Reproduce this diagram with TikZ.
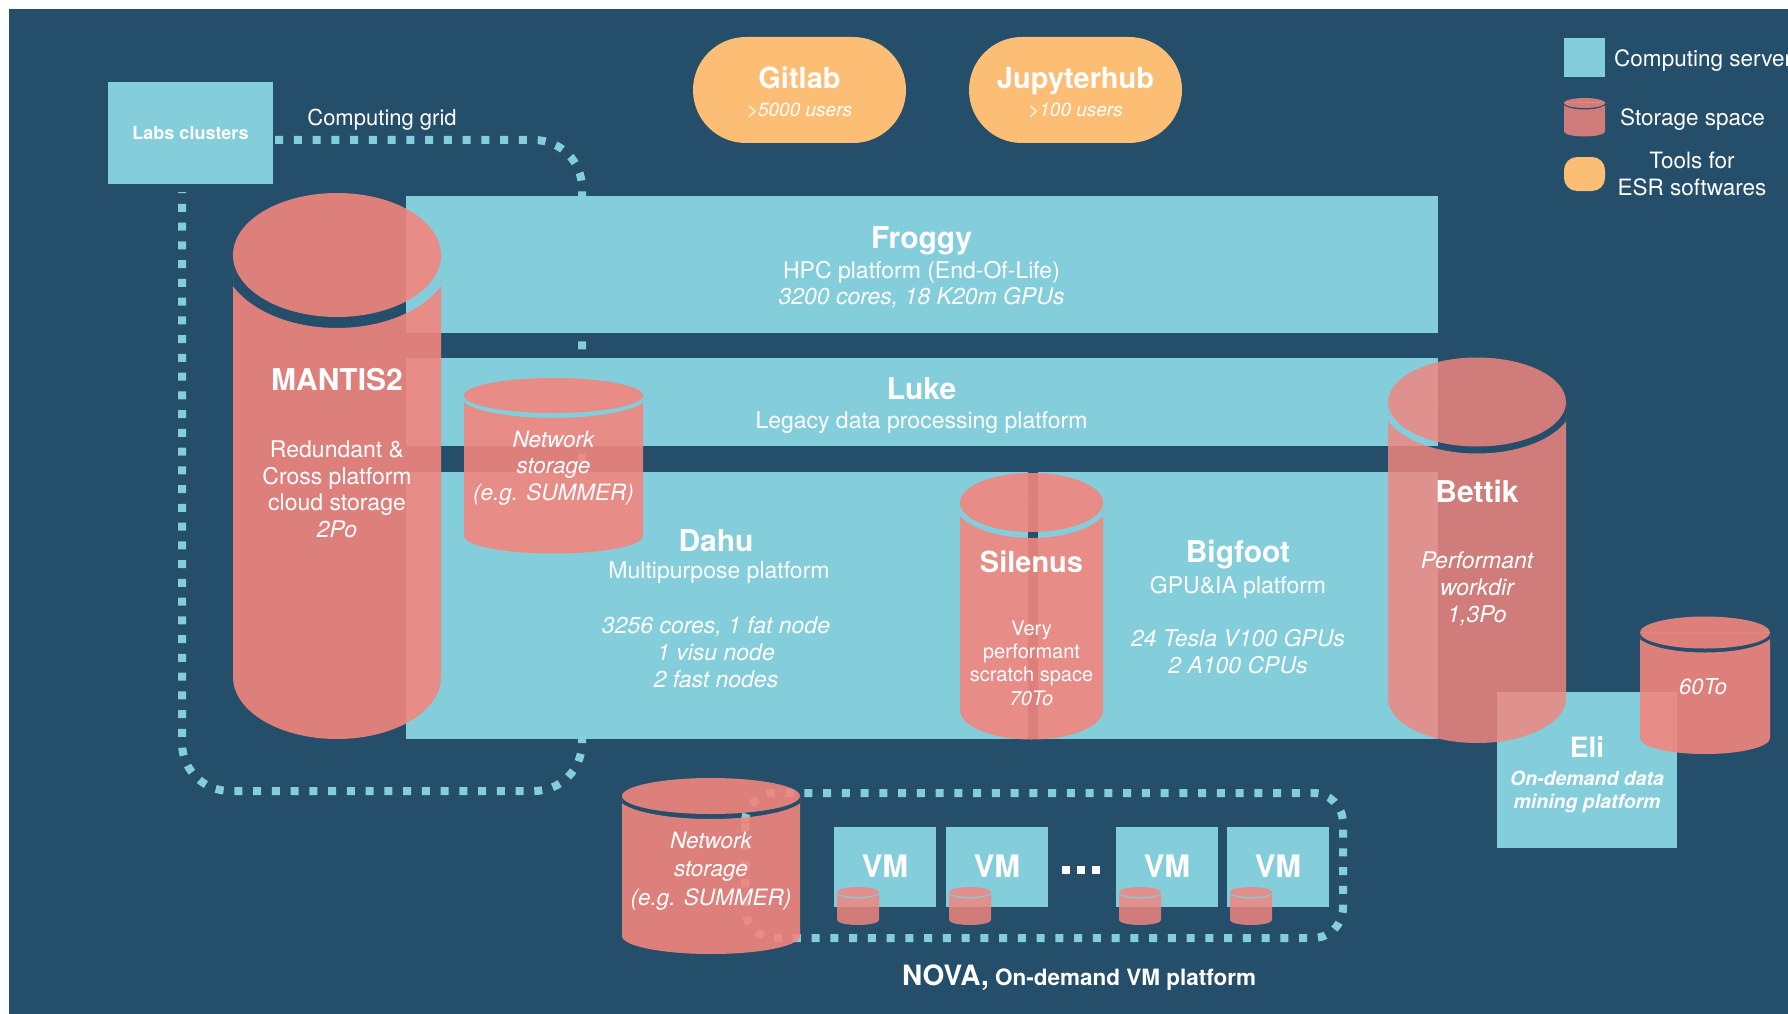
\documentclass[tikz,border=0pt]{standalone}
\usepackage{fontspec}
\setmainfont{TeX Gyre Heros}
\definecolor{bgblue}{HTML}{244E6A}
\definecolor{server}{HTML}{84CDDA}
\definecolor{tool}{HTML}{FCBD74}
\definecolor{storage}{HTML}{F2867F}
\newcommand{\setfs}[2]{\fontsize{#1}{#2}\selectfont}
% storage cylinder: centre x, top centre y, x radius, y radius, bottom centre y, rim, opacity
\newcommand{\storagecyl}[7]{%
	\fill[storage,fill opacity=#7] (#1,#2) ellipse [x radius=#3,y radius=#4];
	\begin{scope}
		\clip (#1-#3,#2) rectangle (#1+#3,#5+#4+2);
		\fill[storage,fill opacity=#7,even odd rule] (#1-#3,#2)--(#1-#3,#5) arc[start angle=180,end angle=0,x radius=#3,y radius=#4]--(#1+#3,#2)--cycle (#1,#2) ellipse [x radius=#3+#6,y radius=#4+#6];
	\end{scope}}
\tikzset{
	txt/.style={text=white,inner sep=0pt,anchor=base},
	ttl/.style={txt,font=\setfs{30}{36}\bfseries},
	sub/.style={txt,font=\setfs{23}{27}},
	spec/.style={txt,font=\setfs{23}{27}\itshape},
	net/.style={txt,font=\setfs{22.5}{27}\itshape},
	small/.style={txt,font=\setfs{20}{23}},
	griddots/.style={draw=server,line width=8pt,dash pattern=on 8pt off 10.75pt},
}
\begin{document}
\begin{tikzpicture}[x=1pt,y=-1pt]
	\useasboundingbox (0,0) rectangle (1788,1014);
	\fill[white] (0,0) rectangle (1788,1014);
	\fill[bgblue] (9,9) rectangle (1788,1014);
	% computing grid
	\node[fill=server,minimum width=165pt,minimum height=102pt,inner sep=0pt,text=white,font=\setfs{18}{22}\bfseries] (labs) at (190.5,133) {Labs clusters};
	\coordinate (gridNE) at (582,140);
	\coordinate (gridSW) at (182,791);
	\draw[griddots,rounded corners=48pt] ([xshift=2pt]labs.east |- gridNE) -- (gridNE) -- (gridNE |- gridSW) -- (gridSW) -- ([yshift=-8pt]gridSW |- labs.south);
	\node[txt,font=\setfs{22}{26}] (gridlabel) at (382,126) {Computing grid};
	% NOVA frame
	\draw[griddots,rounded corners=30pt] (745,793) rectangle (1343,938);
	% servers
	\fill[server] (406,196) rectangle (1438,333);
	\fill[server] (406,358) rectangle (1438,446);
	\fill[server] (406,472) rectangle (1028,739);
	\fill[server] (1038,472) rectangle (1438,739);
	\fill[server] (1497,692) rectangle (1677,848);
	\foreach \vmx in {834,946,1116,1227} \fill[server] (\vmx,827) rectangle ++(102,80);
	\foreach \dotx in {1066,1081,1096} \fill[white] (\dotx-4,866) rectangle ++(8,8);
	% tools
	\fill[tool,rounded corners=53pt] (693,37) rectangle (906,143);
	\fill[tool,rounded corners=53pt] (969,37) rectangle (1182,143);
	% legend
	\fill[server] (1564,38) rectangle (1605,77);
	\storagecyl{1584.5}{103}{20.5}{5}{131.5}{1.5}{0.84}
	\fill[tool,rounded corners=13pt] (1564,157) rectangle (1605,191);
	% storage
	\storagecyl{337}{255}{104}{62}{677}{11}{0.9}
	\storagecyl{553.5}{395.5}{89.5}{17.5}{536}{5}{0.9}
	\storagecyl{1031.5}{502.5}{71.5}{29.5}{710}{6}{0.9}
	\storagecyl{1477}{402}{89}{44.5}{698.5}{7}{0.83}
	\storagecyl{1705}{632.5}{65}{16}{738}{4}{0.9}
	\storagecyl{711}{796}{89}{18}{936}{5}{0.9}
	\foreach \vmx in {834,946,1116,1227} {\storagecyl{\vmx+24}{892}{21}{5}{920}{1.5}{0.84}}
	% texts
	\node[txt,font=\setfs{29}{34}\bfseries] (gitlabT) at (799.5,89) {Gitlab};
	\node[txt,font=\setfs{19}{23}\itshape] (gitlabU) at (799.5,116.5) {>5000 users};
	\node[txt,font=\setfs{29}{34}\bfseries] (jupyterT) at (1075.5,89) {Jupyterhub};
	\node[txt,font=\setfs{19}{23}\itshape] (jupyterU) at (1075.5,116.5) {>100 users};
	\node[txt,anchor=base west,font=\setfs{22.5}{26}] (legServer) at (1614,67) {Computing servers};
	\node[txt,font=\setfs{22.5}{26}] (legStorage) at (1692.5,126) {Storage space};
	\node[txt,font=\setfs{22.5}{26}] (legToolA) at (1692,168) {Tools for};
	\node[txt,font=\setfs{22.5}{26}] (legToolB) at (1692,195) {ESR softwares};
	\node[ttl] (froggyT) at (921.5,248) {Froggy};
	\node[sub] (froggyS) at (921.5,278) {HPC platform (End-Of-Life)};
	\node[spec] (froggyC) at (921.5,304) {3200 cores, 18 K20m GPUs};
	\node[ttl] (lukeT) at (921.5,399.5) {Luke};
	\node[sub] (lukeS) at (921.5,428) {Legacy data processing platform};
	\node[ttl] (mantisT) at (337,390) {MANTIS2};
	\node[sub] (mantisA) at (337,457) {Redundant \&};
	\node[sub] (mantisB) at (337,484) {Cross platform};
	\node[sub] (mantisC) at (337,510.5) {cloud storage};
	\node[spec] (mantisD) at (337,537) {2Po};
	\node[net] (netA) at (553.5,447) {Network};
	\node[net] (netB) at (553.5,473.5) {storage};
	\node[net] (netC) at (553.5,500) {(e.g. SUMMER)};
	\node[ttl] (dahuT) at (716,551) {Dahu};
	\node[sub] (dahuS) at (719,578) {Multipurpose platform};
	\node[spec] (dahuA) at (716,633) {3256 cores, 1 fat node};
	\node[spec] (dahuB) at (716,660) {1 visu node};
	\node[spec] (dahuC) at (716,687) {2 fast nodes};
	\node[ttl,font=\setfs{29}{34}\bfseries] (silenusT) at (1031.5,572) {Silenus};
	\node[small] (silenusA) at (1031.5,635) {Very};
	\node[small] (silenusB) at (1031.5,658) {performant};
	\node[small] (silenusC) at (1031.5,681.5) {scratch space};
	\node[small,font=\setfs{20}{23}\itshape] (silenusD) at (1031.5,705) {70To};
	\node[ttl] (bigfootT) at (1238,562) {Bigfoot};
	\node[sub] (bigfootS) at (1238,593) {GPU\&IA platform};
	\node[spec] (bigfootA) at (1238,646) {24 Tesla V100 GPUs};
	\node[spec] (bigfootB) at (1238,673) {2 A100 CPUs};
	\node[ttl] (bettikT) at (1477,502) {Bettik};
	\node[spec] (bettikA) at (1477,568) {Performant};
	\node[spec] (bettikB) at (1477,595) {workdir};
	\node[spec] (bettikC) at (1477,622) {1,3Po};
	\node[txt,font=\setfs{22}{26}\itshape] (sixtyT) at (1703,694) {60To};
	\node[ttl,font=\setfs{28}{32}\bfseries] (eliT) at (1587,757) {Eli};
	\node[txt,font=\setfs{19.5}{23}\bfseries\itshape] (eliA) at (1587,785) {On-demand data};
	\node[txt,font=\setfs{19.5}{23}\bfseries\itshape] (eliB) at (1587,808) {mining platform};
	\node[net] (novanetA) at (711,848) {Network};
	\node[net] (novanetB) at (711,876.5) {storage};
	\node[net] (novanetC) at (711,905) {(e.g. SUMMER)};
	\foreach \vmx in {834,946,1116,1227} \node[txt,font=\setfs{31}{36}\bfseries] (vm\vmx) at (\vmx+51,877) {VM};
	\node[txt,anchor=base west,font=\setfs{28}{32}\bfseries] (novaT) at (902,985) {NOVA,{\setfs{22.5}{26} On-demand VM platform}};
\end{tikzpicture}
\end{document}
